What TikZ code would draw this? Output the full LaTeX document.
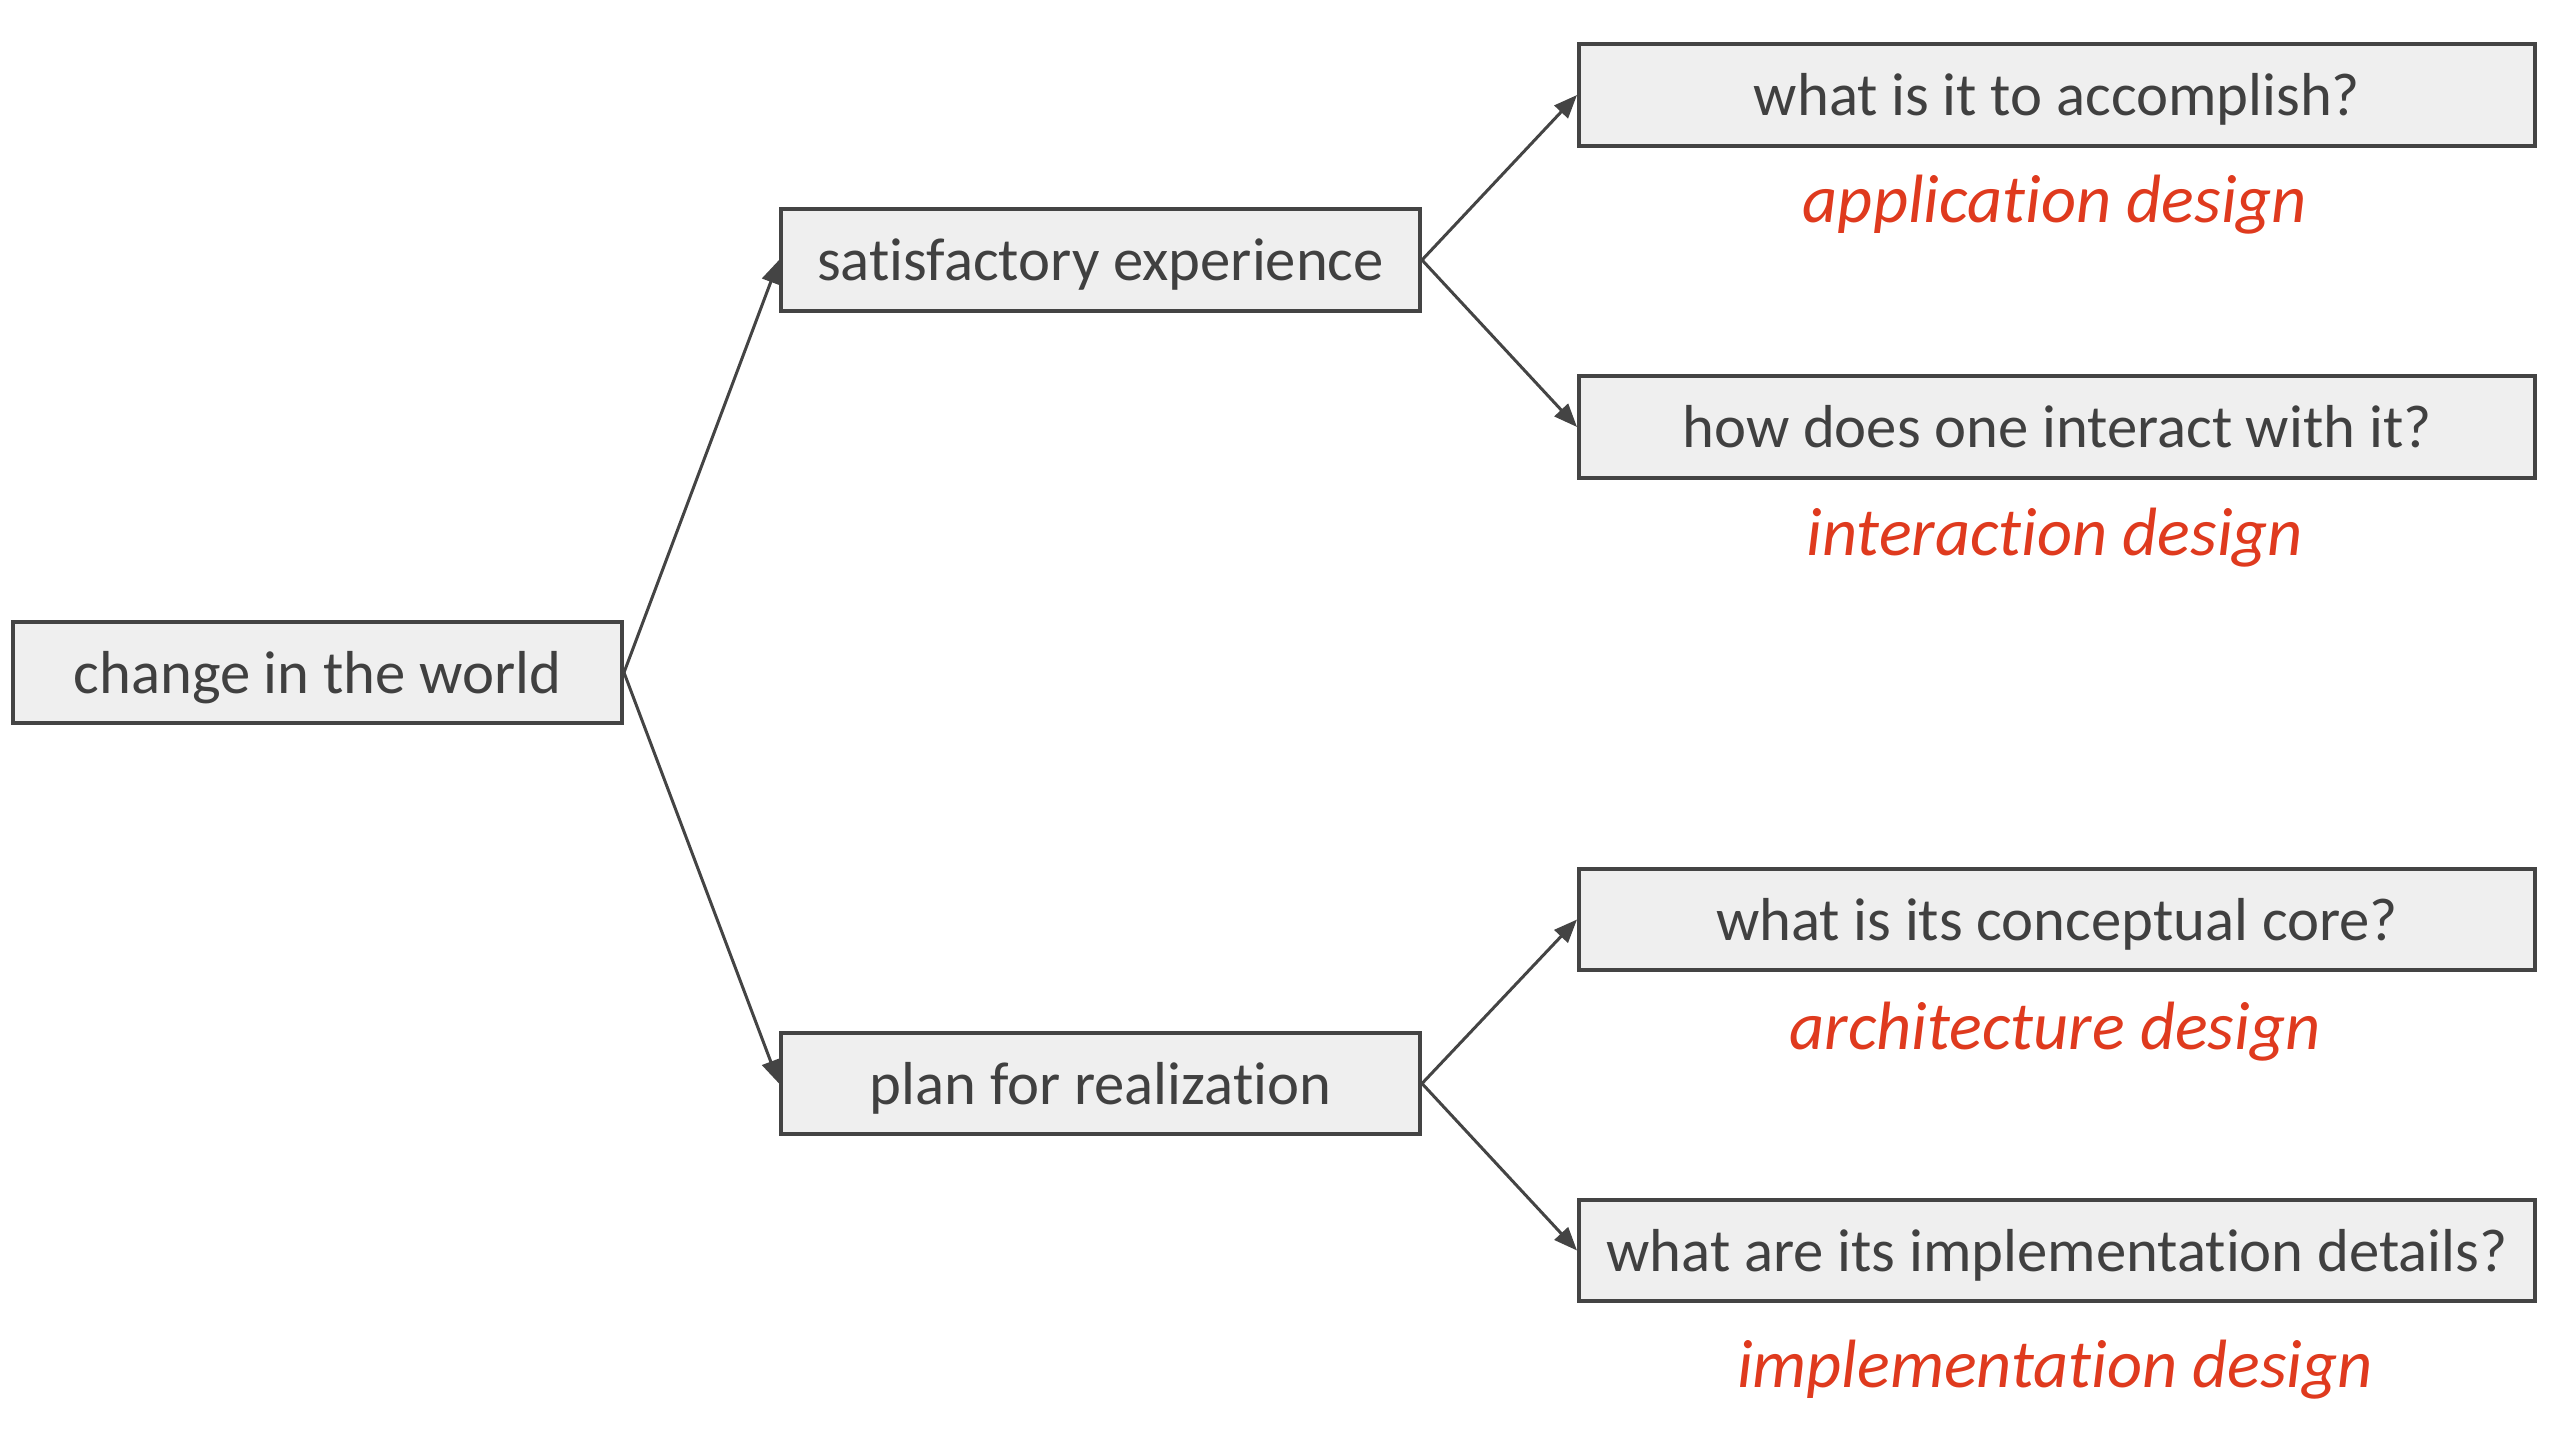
\documentclass[tikz,border=0pt]{standalone}
\usepackage{fontspec}
\setmainfont{Carlito}[Ligatures={NoCommon}]
\usetikzlibrary{arrows.meta}
\definecolor{boxfill}{HTML}{EFEFEF}
\definecolor{boxline}{HTML}{444444}
\definecolor{txt}{HTML}{404040}
\definecolor{redlbl}{HTML}{DF3A1E}
\begin{document}
\begin{tikzpicture}[x=0.3pt,y=-0.3pt,
  box/.style={draw=boxline, fill=boxfill, line width=1.2pt, inner sep=0pt,
    text=txt, font=\fontsize{18.2}{22}\selectfont, minimum height=30.5pt,
    text height=15pt, text depth=2.5pt},
  lbox/.style={box, minimum width=182.7pt},
  mbox/.style={box, minimum width=191.7pt},
  rbox/.style={box, minimum width=286.8pt},
  lbl/.style={text=redlbl, font=\fontsize{20.5}{24}\selectfont\itshape, inner sep=0pt},
  conn/.style={draw=boxline, line width=0.9pt, -{Triangle[length=7pt,width=5.5pt]}}
]
\useasboundingbox (0,0) rectangle (2566,1448);
\node[lbox] (cw) at (317.5,672.5) {change in the world};
\node[mbox] (se) at (1100.5,260) {satisfactory experience};
\node[mbox] (pr) at (1100.5,1083.5) {plan for realization};
\node[rbox] (q1) at (2057,95) {what is it to accomplish?};
\node[rbox] (q2) at (2057,427) {how does one interact with it?};
\node[rbox] (q3) at (2057,919.5) {what is its conceptual core?};
\node[rbox] (q4) at (2057,1250.5) {what are its implementation details?};
\node[lbl] (l1) at (2055,205) {application design};
\node[lbl] (l2) at (2055,538) {interaction design};
\node[lbl] (l3) at (2055,1032) {architecture design};
\node[lbl] (l4) at (2055,1370) {implementation design};
\draw[conn] (cw.east) -- (se.west);
\draw[conn] (cw.east) -- (pr.west);
\draw[conn] (se.east) -- (q1.west);
\draw[conn] (se.east) -- (q2.west);
\draw[conn] (pr.east) -- (q3.west);
\draw[conn] (pr.east) -- (q4.west);
\end{tikzpicture}
\end{document}
